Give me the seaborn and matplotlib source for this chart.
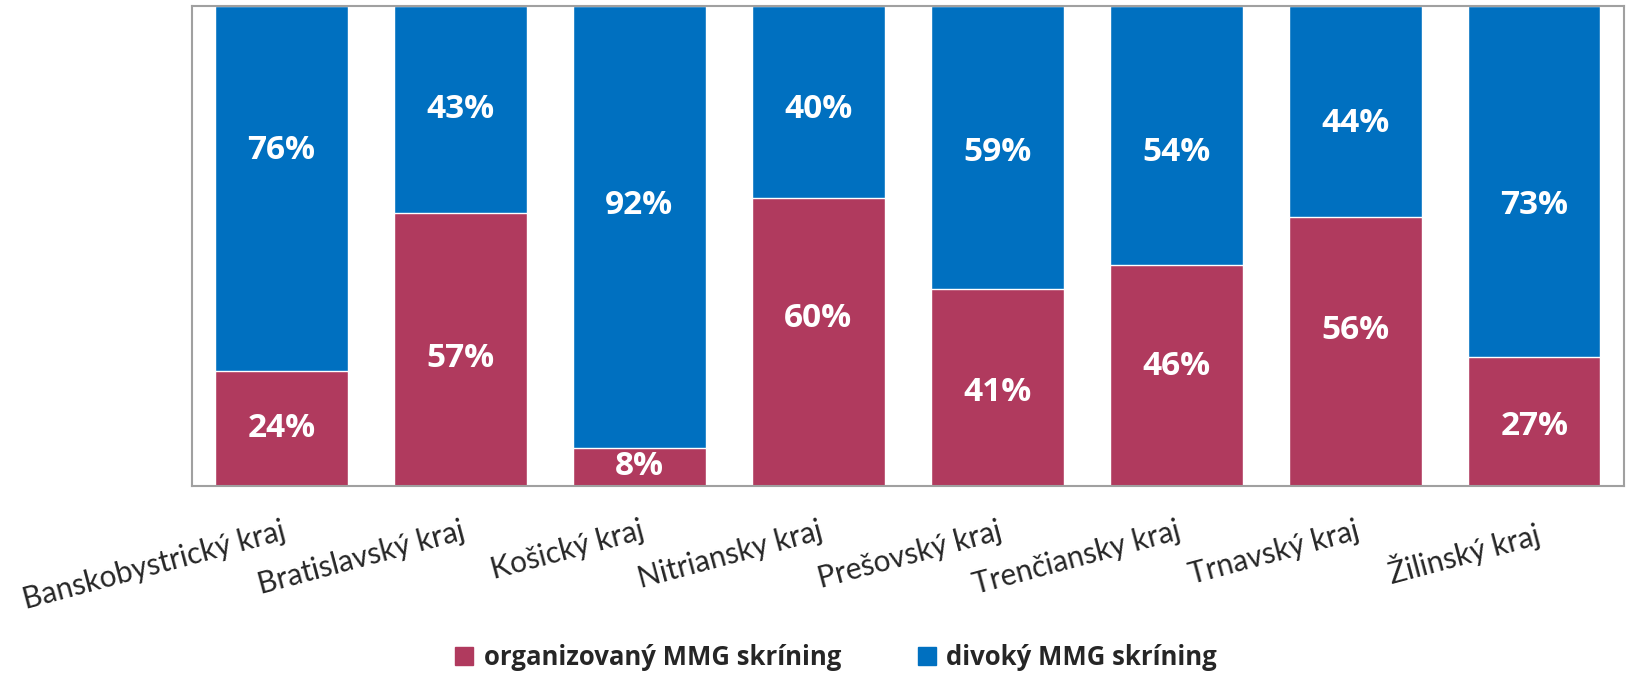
import pandas as pd
import matplotlib.pyplot as plt
import seaborn as sns
from matplotlib.patches import Patch

# Data
regions = ['Banskobystrický kraj', 'Bratislavský kraj', 'Košický kraj', 'Nitriansky kraj',
           'Prešovský kraj', 'Trenčiansky kraj', 'Trnavský kraj', 'Žilinský kraj']
organized = [24, 57, 8, 60, 41, 46, 56, 27]
wild = [76, 43, 92, 40, 59, 54, 44, 73]

# label heights as placed in the original chart (data units)
org_label_y = [12, 26.5, 4, 35, 19.5, 25, 32.5, 12.5]
wild_label_y = [70, 78.5, 58.5, 78.5, 69.5, 69.5, 75.5, 58.5]

red = '#B03A5E'
blue = '#0070C0'

sns.set_style('white')
plt.rcParams['font.family'] = ['Lato', 'DejaVu Sans']
bold_font = ['Open Sans', 'DejaVu Sans']

df = pd.DataFrame({'region': regions, 'organized': organized, 'wild': wild})
df['total'] = df['organized'] + df['wild']

fig = plt.figure(figsize=(16.27, 6.78), dpi=100)
ax = fig.add_axes([0.118, 0.283, 0.880, 0.708])

sns.barplot(data=df, x='region', y='total', color=blue, saturation=1, width=0.74, ax=ax)
sns.barplot(data=df, x='region', y='organized', color=red, saturation=1, width=0.74, ax=ax)

for i in range(len(regions)):
    ax.text(i, org_label_y[i], f'{organized[i]}%', ha='center', va='center',
            color='white', fontsize=24, fontweight='bold', family=bold_font)
    ax.text(i, wild_label_y[i], f'{wild[i]}%', ha='center', va='center',
            color='white', fontsize=24, fontweight='bold', family=bold_font)

ax.set_ylim(0, 100)
ax.set_xlim(-0.5, len(regions) - 0.5)
ax.set_yticks([])
ax.set_xlabel('')
ax.set_ylabel('')
ax.tick_params(axis='x', length=0, pad=22)
ax.set_xticks(range(len(regions)))
ax.set_xticklabels(regions, rotation=15, ha='right', rotation_mode='anchor', fontsize=21.5)
for s in ax.spines.values():
    s.set_visible(True)
    s.set_color('#A0A0A0')
    s.set_linewidth(1.5)

handles = [Patch(color=red, label='organizovaný MMG skríning'),
           Patch(color=blue, label='divoký MMG skríning')]
fig.legend(handles=handles, loc='center', bbox_to_anchor=(0.514, 0.03), ncol=2,
           frameon=False, prop={'size': 18.5, 'weight': 'bold', 'family': bold_font},
           handlelength=0.7, handleheight=0.7, columnspacing=3, handletextpad=0.4)

plt.savefig('out.png', dpi=100)
